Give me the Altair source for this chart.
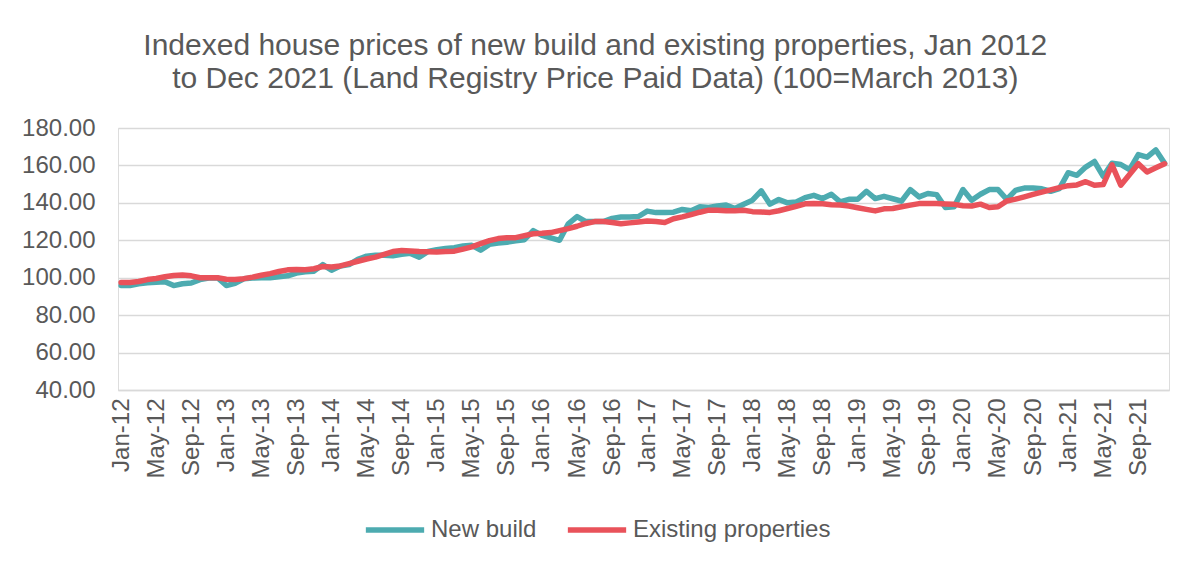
import json
import altair as alt
import pandas as pd

# Month categories Jan 2012 .. Dec 2021
mon_names = ["Jan", "Feb", "Mar", "Apr", "May", "Jun", "Jul", "Aug", "Sep", "Oct", "Nov", "Dec"]
months = [f"{mon_names[i % 12]}-{12 + i // 12}" for i in range(120)]
tick_labels = months[::4]

new_build = [
    95.8, 95.8, 96.8, 97.3, 97.6, 97.9, 95.8, 96.8, 97.2, 99.0, 99.8, 100.0,
    95.8, 97.0, 99.4, 99.8, 100.0, 100.0, 100.5, 101.0, 102.5, 103.2, 103.5, 107.0,
    104.0, 106.2, 107.0, 109.8, 111.5, 112.0, 112.0, 111.7, 112.5, 113.0, 111.0, 114.0,
    115.0, 115.6, 116.0, 117.0, 117.3, 114.7, 117.8, 118.5, 119.0, 119.7, 120.3, 125.2,
    122.6, 121.3, 120.0, 128.8, 132.7, 130.0, 130.0, 130.0, 131.7, 132.4, 132.5, 132.7,
    135.6, 134.8, 134.9, 135.0, 136.5, 135.8, 137.9, 137.5, 138.3, 138.8, 137.0, 139.3,
    141.4, 146.4, 139.3, 141.8, 140.0, 140.5, 142.8, 144.0, 142.3, 144.6, 140.5, 141.9,
    141.9, 146.2, 142.3, 143.5, 142.2, 140.9, 147.1, 143.2, 145.0, 144.4, 137.5, 137.9,
    147.1, 141.4, 144.6, 147.1, 147.1, 141.9, 146.7, 147.9, 147.9, 147.5, 146.2, 147.6,
    156.1, 154.7, 159.1, 162.1, 154.2, 161.2, 160.5, 157.7, 165.8, 164.4, 168.3, 161.2,
]

existing = [
    97.5, 97.5, 98.0, 99.0, 99.6, 100.5, 101.2, 101.4, 101.0, 100.0, 100.0, 100.0,
    99.2, 99.0, 99.5, 100.3, 101.3, 102.2, 103.3, 104.2, 104.4, 104.3, 104.8, 106.0,
    105.7, 106.3, 107.5, 108.8, 110.0, 111.0, 112.5, 114.0, 114.5, 114.3, 114.0, 113.9,
    113.8, 114.0, 114.2, 115.3, 116.5, 118.2, 119.8, 120.9, 121.4, 121.4, 122.5, 123.5,
    123.7, 124.1, 125.2, 126.2, 127.5, 129.0, 130.0, 130.0, 129.5, 128.8, 129.3, 129.8,
    130.3, 130.0, 129.5, 131.5, 132.5, 133.7, 135.0, 136.1, 136.0, 135.8, 135.8, 136.0,
    135.3, 135.1, 134.9, 135.8, 137.0, 138.2, 139.5, 139.7, 139.5, 139.0, 138.8, 138.3,
    137.4, 136.5, 135.7, 136.8, 137.0, 137.9, 138.8, 139.6, 139.7, 139.6, 139.4, 139.2,
    138.5, 138.3, 139.3, 137.5, 137.9, 141.0, 142.0, 143.2, 144.5, 145.7, 146.9, 148.1,
    149.2, 149.6, 151.3, 149.4, 149.8, 160.3, 149.4, 155.2, 160.9, 156.5, 158.7, 160.9,
]

series_names = ["New build", "Existing properties"]
series_colors = ["#4DABB0", "#E9525A"]
y_ticks = [40, 60, 80, 100, 120, 140, 160, 180]

rows = []
for i, m in enumerate(months):
    rows.append({"idx": i, "month": m, "series": series_names[0], "value": new_build[i]})
    rows.append({"idx": i, "month": m, "series": series_names[1], "value": existing[i]})
df = pd.DataFrame(rows)
df["order"] = df["series"].map({series_names[0]: 0, series_names[1]: 1})

FONT = "Liberation Sans"
GREY = "#595959"

label_expr = f"{json.dumps(tick_labels)}[round(datum.value/4)]"

chart = (
    alt.Chart(df)
    .mark_line(strokeWidth=5.5, strokeCap="round", strokeJoin="round")
    .encode(
        x=alt.X(
            "idx:Q",
            scale=alt.Scale(domain=[-0.35, 119.5], nice=False, zero=False),
            axis=alt.Axis(
                values=list(range(0, 120, 4)),
                labelExpr=label_expr,
                labelAngle=-90,
                labelFontSize=24,
                labelFont=FONT,
                labelColor=GREY,
                labelPadding=8,
                ticks=False,
                grid=False,
                domainColor="#D9D9D9",
                domainWidth=1.5,
                title=None,
                labelOverlap=False,
            ),
        ),
        y=alt.Y(
            "value:Q",
            scale=alt.Scale(domain=[40, 180], nice=False, zero=False),
            axis=alt.Axis(
                values=y_ticks,
                format=".2f",
                labelFontSize=24,
                labelFont=FONT,
                labelColor=GREY,
                labelPadding=23,
                ticks=False,
                domain=False,
                gridColor="#D9D9D9",
                gridWidth=1.5,
                title=None,
            ),
        ),
        color=alt.Color(
            "series:N",
            scale=alt.Scale(domain=series_names, range=series_colors),
            legend=alt.Legend(
                orient="none",
                legendX=245,
                legendY=370,
                direction="horizontal",
                title=None,
                symbolType="stroke",
                symbolSize=3400,
                symbolStrokeWidth=5.5,
                labelFontSize=24,
                labelFont=FONT,
                labelColor=GREY,
                labelLimit=0,
                columnPadding=19,
                labelOffset=4,
            ),
        ),
        detail="series:N",
        order="order:Q",
    )
    .properties(
        width=1051,
        height=262,
        title=alt.TitleParams(
            text=[
                "Indexed house prices of new build and existing properties, Jan 2012",
                "to Dec 2021 (Land Registry Price Paid Data) (100=March 2013)",
            ],
            fontSize=30,
            font=FONT,
            color=GREY,
            fontWeight="normal",
            lineHeight=33,
            anchor="middle",
            frame="bounds",
            offset=22,
        ),
        padding={"left": 13, "top": 23, "right": 20, "bottom": 5},
    )
    .configure_view(stroke=None)
    .configure(background="white")
)

chart.save("out.html", embed_options={"renderer": "svg", "actions": False})
